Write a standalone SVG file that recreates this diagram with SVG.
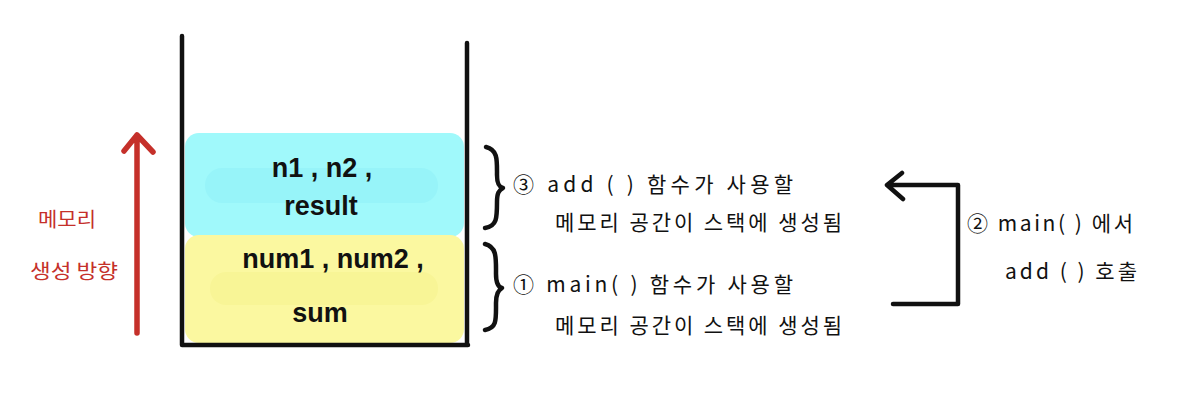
<svg xmlns="http://www.w3.org/2000/svg" width="1201" height="405" viewBox="0 0 1201 405">
<style>
.ink{fill:none;stroke:#111;stroke-width:4.5;stroke-linecap:round;stroke-linejoin:round}
.red{fill:none;stroke:#c5302a;stroke-width:5.5;stroke-linecap:round;stroke-linejoin:round}
.var{font-family:"Liberation Sans","Noto Sans",sans-serif;font-weight:bold;font-size:27px;fill:#111;text-anchor:middle}
.kr{font-family:"Noto Sans CJK KR","Noto Sans",sans-serif;font-size:21px;fill:#111}
.rk{font-family:"Noto Sans CJK KR","Noto Sans",sans-serif;font-size:20px;fill:#c5302a;text-anchor:middle}
</style>
<rect width="1201" height="405" fill="#fff"/>
<g id="frame-stack">
<rect x="185" y="133" width="279" height="104" rx="14" fill="#a0f9fb"/>
<rect x="185" y="235" width="279" height="108" rx="14" fill="#fbf8a0"/>
<rect x="205" y="168" width="233" height="35" rx="17" fill="#97f4f9"/>
<rect x="210" y="272" width="228" height="33" rx="16" fill="#f8f596"/>
<path class="ink" d="M182,36 V345 H468 M467,43 V345"/>
</g>
<g id="frame-add">
<text class="var" x="322" y="177">n1 , n2 ,</text>
<text class="var" x="321" y="215">result</text>
</g>
<g id="frame-main">
<text class="var" x="333" y="268">num1 , num2 ,</text>
<text class="var" x="320" y="322">sum</text>
</g>
<g id="direction">
<path class="red" d="M137,333 V135 M124,151 L137,135 L153,152"/>
<text class="rk" x="67" y="227" textLength="58" lengthAdjust="spacingAndGlyphs">메모리</text>
<text class="rk" x="74" y="279" textLength="88" lengthAdjust="spacingAndGlyphs">생성 방향</text>
</g>
<g id="connectors">
<path class="ink" d="M486,147 C498,150 497,160 497,175 C497,184 499,187 503,188 C499,190 497,193 497,202 C497,218 497,226 485,228"/>
<path class="ink" d="M485,244 C497,247 496,258 496,274 C496,283 498,287 502,288 C498,290 496,294 496,303 C496,320 497,328 485,330"/>
<path class="ink" d="M893,304 H958 V185 H888 M902,173 L887,185 L903,199"/>
</g>
<g id="note-add">
<text class="kr" x="513" y="192" textLength="280" lengthAdjust="spacing">③ add ( ) 함수가  사용할</text>
<text class="kr" x="555" y="230" textLength="287" lengthAdjust="spacing">메모리  공간이  스택에  생성됨</text>
</g>
<g id="note-main">
<text class="kr" x="513" y="292" textLength="280" lengthAdjust="spacing">① main( ) 함수가  사용할</text>
<text class="kr" x="555" y="333" textLength="287" lengthAdjust="spacing">메모리  공간이  스택에  생성됨</text>
</g>
<g id="note-call">
<text class="kr" x="967" y="231" textLength="166" lengthAdjust="spacing">② main( ) 에서</text>
<text class="kr" x="1005" y="279" textLength="132" lengthAdjust="spacing">add ( ) 호출</text>
</g>
</svg>
